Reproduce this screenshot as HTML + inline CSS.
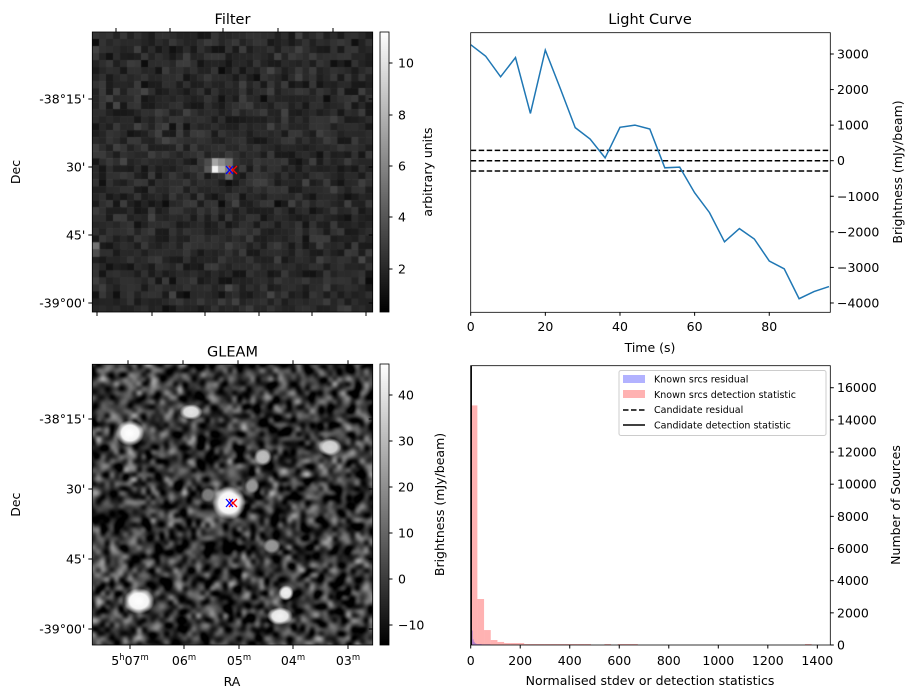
<!DOCTYPE html>
<html><head><meta charset="utf-8"><style>
body{margin:0;background:#fff;width:916px;height:699px;overflow:hidden;position:relative;font-family:"Liberation Sans","DejaVu Sans",sans-serif}
canvas{position:absolute}
svg{position:absolute;left:0;top:0}
text{font-family:"DejaVu Sans","Liberation Sans",sans-serif;fill:#000}
</style></head><body>
<canvas id="cf" width="281" height="280" style="left:92px;top:32px"></canvas>
<canvas id="cg" width="281" height="281" style="left:92px;top:364px"></canvas>
<canvas id="cb1" width="9" height="280" style="left:380px;top:32px"></canvas>
<canvas id="cb2" width="9" height="281" style="left:380px;top:364px"></canvas>
<svg id="s" width="916" height="699"></svg>
<script>
// Light curve data
const lcTimes=[0,4,8,12,16,20,24,28,32,36,40,44,48,52,56,60,64,68,72,76,80,84,88,92,96];
const lcValues=[3260,2940,2360,2900,1330,3110,2030,930,610,80,940,1000,890,-200,-180,-900,-1460,-2280,-1910,-2200,-2820,-3040,-3880,-3680,-3540];
const lcLevels=[290,0,-290];
const lcXTicks=[0,20,40,60,80];
const lcYTicks=[3000,2000,1000,0,-1000,-2000,-3000,-4000];
// Histogram data
const binWidth=27;
const redCounts=[14900,2860,930,310,190,120,120,120,60,60,60,60,60,60,60,60,60,60,0,0,60,0,60,60,60,0,0,0,0,0,0,0,0,0,0,0,0,0,0,0,0,0,0,0,0,0,0,0,0,0,60,0];
const blueBinWidth=4;
const blueCounts=[1950,900,350,200,120,80,60,60,60,60,60,40,40,40,40,40,40,40,40,40];
const histXTicks=[0,200,400,600,800,1000,1200,1400];
const histYTicks=[0,2000,4000,6000,8000,10000,12000,14000,16000];

const S=document.getElementById('s');const NS='http://www.w3.org/2000/svg';
function el(t,a,txt,name,p){const e=document.createElementNS(NS,t);for(const k in a)e.setAttribute(k,a[k]);if(txt!==undefined&&txt!==null)e.textContent=txt;


(p||S).appendChild(e);return e;}
function tx(x,y,s,anchor,name,size,rot){const a={x:x,y:y,'font-size':size||12,'text-anchor':anchor||'middle'};if(rot)a.transform='rotate(-90 '+x+' '+y+')';return el('text',a,s,name);}

// ---- Light curve
const lx=v=>470.7+v*3.732, ly=v=>160.7-v*0.03557;
let d='';lcTimes.forEach((t,i)=>{d+=(i?'L':'M')+lx(t).toFixed(1)+','+ly(lcValues[i]).toFixed(1)});
lcLevels.forEach(v=>el('line',{x1:470.7,x2:830.3,y1:ly(v),y2:ly(v),stroke:'#000','stroke-width':1.5,'stroke-dasharray':'5.5,2.5'},null,'threshold-line'));
el('path',{d:d,fill:'none',stroke:'#1f77b4','stroke-width':1.5},null,'light-curve-line');
el('rect',{x:470.7,y:32.7,width:359.6,height:279.6,fill:'none',stroke:'#000','stroke-width':0.8},null,'light-curve-frame');
lcXTicks.forEach(v=>{el('line',{x1:lx(v),x2:lx(v),y1:312.3,y2:315.8,stroke:'#000'},null,'x-tick');tx(lx(v),331,String(v),'middle','x-tick-label',12.5)});
lcYTicks.forEach(v=>{el('line',{x1:830.3,x2:833.8,y1:ly(v),y2:ly(v),stroke:'#000'},null,'y-tick');tx(837,ly(v)+4.5,String(v).replace('-','\u2212'),'start','y-tick-label',12.5)});
tx(650,24,'Light Curve','middle','light-curve-title',14.5);
tx(650,352,'Time (s)','middle','x-axis-title',12.5);
tx(902,172,'Brightness (mJy/beam)','middle','y-axis-title',12.5,true);

// ---- Histogram
const hx=v=>470.7+v*0.2476, hy=v=>645-v*0.01608;
redCounts.forEach((c,i)=>{if(c>0)el('rect',{x:hx(i*binWidth),y:hy(c),width:binWidth*0.2476,height:c*0.01608,fill:'#ff0000','fill-opacity':0.3},null,'red-bar')});
blueCounts.forEach((c,i)=>{el('rect',{x:hx(i*blueBinWidth),y:hy(c),width:blueBinWidth*0.2476,height:c*0.01608,fill:'#0000ff','fill-opacity':0.3},null,'blue-bar')});
el('line',{x1:hx(0)+0.5,x2:hx(0)+0.5,y1:365.7,y2:645,stroke:'#000','stroke-width':1.5},null,'candidate-detection-line');
el('rect',{x:470.7,y:365.7,width:359.6,height:279.3,fill:'none',stroke:'#000','stroke-width':0.8},null,'histogram-frame');
histXTicks.forEach(v=>{el('line',{x1:hx(v),x2:hx(v),y1:645,y2:648.5,stroke:'#000'},null,'x-tick');tx(hx(v),665,String(v),'middle','x-tick-label',12.5)});
histYTicks.forEach(v=>{el('line',{x1:830.3,x2:833.8,y1:hy(v),y2:hy(v),stroke:'#000'},null,'y-tick');tx(837,hy(v)+4.5,String(v),'start','y-tick-label',12.5)});
tx(650,685,'Normalised stdev or detection statistics','middle','x-axis-title',12.5);
tx(900,505,'Number of Sources','middle','y-axis-title',12.5,true);
el('rect',{x:619,y:370.5,width:207,height:65,fill:'#fff','fill-opacity':0.8,stroke:'#ccc',rx:2},null,'legend-box');
el('rect',{x:623,y:375,width:22,height:8,fill:'#0000ff','fill-opacity':0.3},null,'legend-swatch-blue');
el('rect',{x:623,y:390,width:22,height:8,fill:'#ff0000','fill-opacity':0.3},null,'legend-swatch-red');
el('line',{x1:623,x2:645,y1:410,y2:410,stroke:'#000','stroke-width':1.5,'stroke-dasharray':'5.5,2.5'},null,'legend-line-dashed');
el('line',{x1:623,x2:645,y1:425,y2:425,stroke:'#000','stroke-width':1.5},null,'legend-line-solid');
['Known srcs residual','Known srcs detection statistic','Candidate residual','Candidate detection statistic'].forEach((s,i)=>tx(654,382.5+i*15.3,s,'start','legend-entry',9.5));

// ---- Image axes
function imgAxes(x0,y0,w,h,title,yt,yl,topT,botT,cbTop,cbH,cbTicks,cbLab,cbLabel,cbX){
 el('rect',{x:x0,y:y0,width:w,height:h,fill:'none',stroke:'#000','stroke-width':0.8},null,'image-frame');
 tx(x0+w/2,y0-8,title,'middle','image-title',14.5);
 yt.forEach((y,i)=>{el('line',{x1:x0-4,x2:x0,y1:y,y2:y,stroke:'#000'},null,'dec-tick');tx(x0-7,y+4.5,yl[i],'end','dec-tick-label',12.5);el('line',{x1:x0+w,x2:x0+w-4,y1:y,y2:y,stroke:'#000'},null,'dec-tick-right')});
 topT.forEach(x=>el('line',{x1:x,x2:x,y1:y0-4,y2:y0,stroke:'#000'},null,'ra-tick-top'));
 botT.forEach(x=>el('line',{x1:x,x2:x,y1:y0+h,y2:y0+h+4,stroke:'#000'},null,'ra-tick'));
 tx(20,y0+h/2,'Dec','middle','dec-axis-title',12.5,true);
 el('rect',{x:380,y:cbTop,width:9,height:cbH,fill:'none',stroke:'#000','stroke-width':0.8},null,'colorbar-frame');
 cbTicks.forEach((y,i)=>{el('line',{x1:389,x2:392.5,y1:y,y2:y,stroke:'#000'},null,'colorbar-tick');tx(398,y+4.5,cbLab[i],'start','colorbar-tick-label',12.5)});
 tx(cbX,cbTop+cbH/2,cbLabel,'middle','colorbar-title',12.5,true);
}
imgAxes(92.3,32,280.4,280,'Filter',[99,167,235,303],["-38°15'","30'","45'","-39°00'"],[116,170,223,278,333],[97,152,205,259,312,366],32,280,[63,115,166,217,269],['10','8','6','4','2'],'arbitrary units',432);
imgAxes(92.3,364.3,280.4,280.7,'GLEAM',[419,489,559,629],["-38°15'","30'","45'","-39°00'"],[128,183,238,293,348],[130,184,239,293,348],364,281,[395,441,487,533,579,625],['40','30','20','10','0','\u221210'],'Brightness (mJy/beam)',444);
// RA labels with superscripts
[[130,'5','h','07','m'],[184,'','','06','m'],[239,'','','05','m'],[293,'','','04','m'],[348,'','','03','m']].forEach(r=>{
 const t=el('text',{x:r[0],y:665,'font-size':12.5,'text-anchor':'middle'},null,'ra-tick-label');
 if(r[1]){el('tspan',{},r[1],'ra-hours',t);el('tspan',{dy:-5,'font-size':8.5},r[2],'ra-h-sup',t);el('tspan',{dy:5},r[3],'ra-minutes',t);}
 else el('tspan',{},r[3],'ra-minutes',t);
 el('tspan',{dy:-5,'font-size':8.5},r[4],'ra-m-sup',t);
});
tx(232,686,'RA','middle','ra-axis-title',12.5);
// markers
[[229,170],[229,503]].forEach(p=>{
 el('path',{d:`M${p[0]},${p[1]-4}l8,8M${p[0]},${p[1]+4}l8,-8`,stroke:'#f00','stroke-width':1.3},null,'red-x-marker');
 el('path',{d:`M${p[0]-3},${p[1]-4}l7,8M${p[0]-3},${p[1]+4}l7,-8`,stroke:'#00f','stroke-width':1.3},null,'blue-x-marker');
});

// ---- image textures (seeded)
let seed=12345;function rnd(){seed=(seed*1103515245+12345)&0x7fffffff;return seed/0x7fffffff}
function gauss(){return (rnd()+rnd()+rnd()+rnd()-2)*1.7}
// filter
const cf=document.getElementById('cf').getContext('2d');const N=40,cw=280.4/N;
for(let j=0;j<N;j++)for(let i=0;i<N;i++){let v=0.16+gauss()*0.045;let g=Math.max(0,Math.min(255,v*255|0));cf.fillStyle=`rgb(${g},${g},${g})`;cf.fillRect(i*cw,j*cw,cw+0.6,cw+0.6)}
[[17,19,0.95],[18,19,0.7],[17,18,0.65],[18,18,0.55],[19,19,0.5],[19,18,0.45],[19,20,0.4],[16,19,0.35],[16,18,0.3],[0,30,0.45],[0,31,0.3]].forEach(c=>{let g=c[2]*255|0;cf.fillStyle=`rgb(${g},${g},${g})`;cf.fillRect(c[0]*cw,c[1]*cw,cw+0.6,cw+0.6)});
// gleam
const small=document.createElement('canvas');small.width=64;small.height=64;const sc=small.getContext('2d');
for(let j=0;j<64;j++)for(let i=0;i<64;i++){let v=0.28+gauss()*0.2;let g=Math.max(0,Math.min(255,v*255|0));sc.fillStyle=`rgb(${g},${g},${g})`;sc.fillRect(i,j,1,1)}
const cg=document.getElementById('cg').getContext('2d');cg.imageSmoothingEnabled=true;cg.imageSmoothingQuality='high';
cg.filter='blur(1.5px) contrast(1.3)';cg.drawImage(small,-5,-5,291,291);cg.filter='none';
[[38,69,11,10,1],[47,237,12,10,1],[99,48,9,6,0.9],[137,139,13,13,1],[171,93,7,7,0.75],[160,122,6,6,0.6],[238,83,9,7,0.85],[194,229,6,6,0.95],[188,252,10,7,0.95],[233,295,9,7,0.9],[180,182,7,6,0.6],[35,294,8,6,0.55],[116,131,6,6,0.5]].forEach(b=>{
 const gr=cg.createRadialGradient(b[0],b[1],0,b[0],b[1],b[2]*1.3);const g=b[4]*255|0;
 gr.addColorStop(0,`rgba(${g},${g},${g},1)`);gr.addColorStop(0.6,`rgba(${g},${g},${g},0.95)`);gr.addColorStop(1,`rgba(${g},${g},${g},0)`);
 cg.save();cg.translate(b[0],b[1]);cg.scale(1,b[3]/b[2]);cg.translate(-b[0],-b[1]);cg.fillStyle=gr;cg.beginPath();cg.arc(b[0],b[1],b[2]*1.3,0,7);cg.fill();cg.restore();});
// colorbars
[['cb1',280],['cb2',281]].forEach(c=>{const x=document.getElementById(c[0]).getContext('2d');const gr=x.createLinearGradient(0,0,0,c[1]);gr.addColorStop(0,'#fff');gr.addColorStop(1,'#000');x.fillStyle=gr;x.fillRect(0,0,9,c[1])});
</script>
</body></html>
